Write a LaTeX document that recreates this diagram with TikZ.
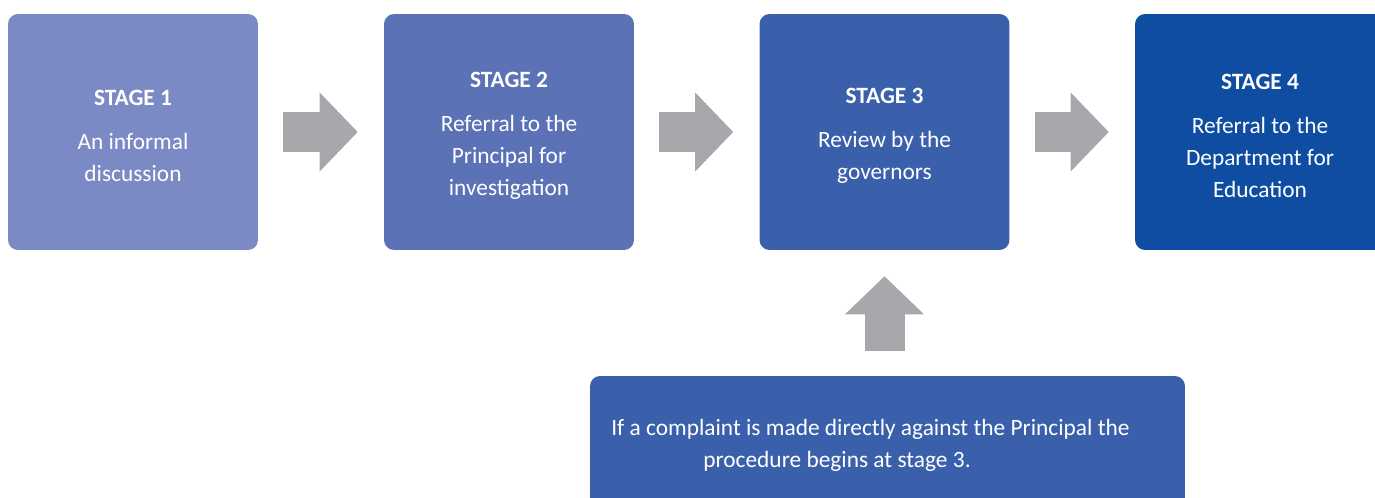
\documentclass[tikz,border=0pt]{standalone}
\usepackage{fontspec}
\setmainfont{Carlito}
\usepackage{tikz}
\usetikzlibrary{arrows.meta}
\definecolor{stageA}{HTML}{7B89C4}
\definecolor{stageB}{HTML}{5B72B7}
\definecolor{stageC}{HTML}{3A60AC}
\definecolor{stageD}{HTML}{0E4DA1}
\definecolor{arrowgrey}{HTML}{A7A8AB}
\newcommand{\stagehead}[1]{\rule{0pt}{13pt}\textbf{STAGE #1}\\[7pt]}

\begin{document}
\begin{tikzpicture}[x=0.02cm, y=-0.02cm,
    stage/.style = {rectangle, rounded corners=0.2cm, minimum width=5cm, minimum height=4.72cm,
      text=white, align=center, font=\fontsize{13.3}{18.2}\selectfont},
    flow/.style = {draw=arrowgrey, line width=0.8cm,
      -{Triangle[length=0.76cm, width=1.58cm, line width=0pt]},
      shorten <=0.5cm, shorten >=0.52cm}]
        \clip (0,0) rectangle (1375,497);
        \node[stage, fill=stageA] (s1) at (133,132) {\stagehead{1}An informal\\discussion};
        \node[stage, fill=stageB] (s2) at (509,132) {\stagehead{2}Referral to the\\Principal for\\investigation};
        \node[stage, fill=stageC] (s3) at (884.5,132) {\stagehead{3}Review by the\\governors};
        \node[stage, fill=stageD] (s4) at (1260,132) {\stagehead{4}Referral to the\\Department for\\Education};
        \node[rectangle, rounded corners=0.2cm, fill=stageC, minimum width=11.9cm, minimum height=3.2cm] (note) at (887.5,456) {};
        \node[anchor=west, text=white, align=left, inner sep=0pt, font=\fontsize{13.3}{18.2}\selectfont] (msg) at (611,445)
          {If a complaint is made directly against the Principal the\\\hspace*{1.84cm}procedure begins at stage 3.};
        \draw[flow] (s1) -- (s2);
        \draw[flow] (s2) -- (s3);
        \draw[flow] (s3) -- (s4);
        \draw[flow] (s3.south |- note.north) -- (s3.south);
      \end{tikzpicture}
\end{document}
